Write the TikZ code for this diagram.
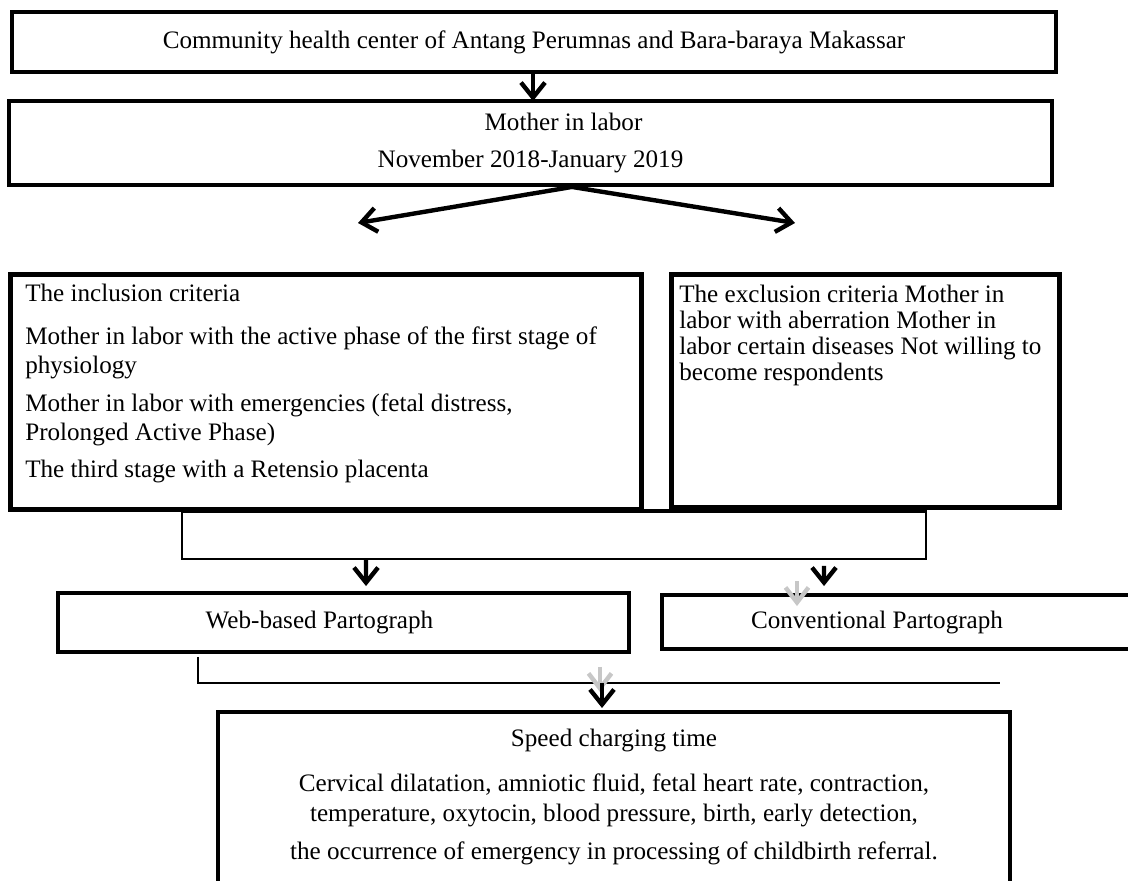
\documentclass[tikz,border=0pt]{standalone}
\usepackage{fontspec}
\setmainfont{Liberation Serif}
\usetikzlibrary{arrows.meta,positioning,calc}

\begin{document}
\begin{tikzpicture}[
    flowbox/.style={rectangle, draw=black, line width=2.2pt, inner sep=0pt,
      font=\fontsize{14.3}{16.5}\selectfont},
    thinbox/.style={rectangle, draw=black, line width=1.1pt, inner sep=0pt},
    flowarrow/.style={-{Straight Barb[length=0.3cm, width=0.48cm]}, line width=2.5pt, black},
    ghostarrow/.style={-{Straight Barb[length=0.3cm, width=0.46cm]}, line width=2.5pt, black!22}
  ]
    \useasboundingbox (0,0) rectangle (22.56,-17.62);
    \node[flowbox, minimum width=20.88cm, minimum height=1.2cm] (site) at (10.68,-0.84)
      {Community health center of Antang Perumnas and Bara-baraya Makassar};
    \node[flowbox, minimum width=20.86cm, minimum height=1.68cm, align=center,
      font=\fontsize{14.3}{21.6}\selectfont] (mother) at (10.61,-2.86)
      {\hspace*{1.32cm}Mother in labor\\November 2018-January 2019};
    \node[flowbox, line width=2.6pt, anchor=north west, inner xsep=0.3cm, inner ysep=0.2cm] (incl) at (0.16,-5.44)
      {\parbox[t][4.3cm][t]{12.02cm}{\raggedright
        The inclusion criteria\par\vspace{0.28cm}
        Mother in labor with the active phase of the first stage of\\physiology\par\vspace{0.18cm}
        Mother in labor with emergencies (fetal distress,\\Prolonged Active Phase)\par\vspace{0.16cm}
        The third stage with a Retensio placenta}};
    \node[flowbox, line width=2.6pt, anchor=north west, inner xsep=0.16cm, inner ysep=0.22cm] (excl) at (13.38,-5.44)
      {\parbox[t][4.22cm][t]{7.44cm}{\fontsize{14.3}{14.8}\selectfont\raggedright
        The exclusion criteria Mother in\\labor with aberration Mother in\\labor certain diseases Not willing to\\become respondents}};
    \node[thinbox, minimum width=14.88cm, minimum height=0.94cm] (group) at (11.08,-10.71) {};
    \draw[line width=2.2pt] (group.north west) -- (group.north east);
    \node[flowbox, minimum width=11.42cm, minimum height=1.18cm] (web) at (6.87,-12.45)
      {Web-based Partograph\hspace*{0.96cm}};
    \node[flowbox, minimum width=9.42cm, minimum height=1.08cm] (conv) at (17.95,-12.44)
      {\raisebox{-0.12cm}{Conventional Partograph}\hspace*{0.82cm}};
    \node[flowbox, anchor=north, inner xsep=0.2cm, inner ysep=0.34cm] (speed) at (12.28,-14.2)
      {\parbox[t][2.84cm][t]{15.44cm}{\fontsize{14.3}{17.1}\selectfont\centering
        Speed charging time\par\vspace{0.3cm}
        Cervical dilatation, amniotic fluid, fetal heart rate, contraction,\\
        temperature, oxytocin, blood pressure, birth, early detection,\par\vspace{0.16cm}
        the occurrence of emergency in processing of childbirth referral.}};
    \coordinate (incltip) at (7.16,-4.46);
    \coordinate (excltip) at (15.9,-4.46);
    \coordinate (merge) at (20.0,-13.66);
    \draw[flowarrow] (site.south -| 10.66,0) -- ($(mother.north)+(0.05,-0.04)$);
    \draw[flowarrow] ($(mother.south)+(0.83,0)$) -- (incltip);
    \draw[flowarrow] ($(mother.south)+(0.83,0)$) -- (excltip);
    \draw[flowarrow] ($(group.south)+(-3.76,0)$) -- ($(web.north)+(0.45,0.1)$);
    \draw[flowarrow] ($(group.south)+(5.4,-0.12)$) -- ($(conv.north)+(-1.47,0.14)$);
    \draw[ghostarrow] ($(conv.north)+(-2.01,0.24)$) -- ($(conv.north)+(-2.01,-0.26)$);
    \draw[line width=0.8pt] ($(web.south west)+(2.84,-0.06)$) |- (merge);
    \draw[ghostarrow] ($(speed.north)+(-0.28,0.86)$) -- ($(speed.north)+(-0.28,0.36)$);
    \draw[flowarrow] ($(speed.north)+(-0.24,0.54)$) -- ($(speed.north)+(-0.24,0.04)$);
  \end{tikzpicture}
\end{document}
